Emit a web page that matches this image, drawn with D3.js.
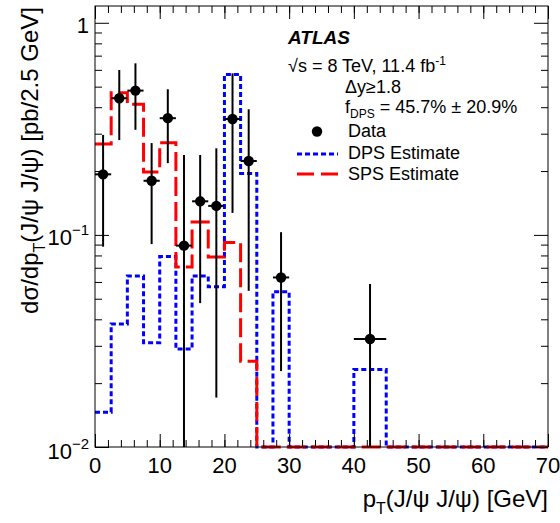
<!DOCTYPE html>
<html>
<head>
<meta charset="utf-8">
<script src="https://cdn.jsdelivr.net/npm/d3@7"></script>
<style>
  body { margin: 0; background: #fff; }
  svg { font-family: "Liberation Sans", Arial, Helvetica, sans-serif; }
</style>
</head>
<body>
<svg width="560" height="523"></svg>
<script>
// bin edges in GeV (2.5 GeV bins)
const binEdges = d3.range(0, 70.01, 2.5);
// DPS / SPS estimates per bin (0 = empty)
const dpsValues = [0.0146, 0.038, 0.064, 0.031, 0.079, 0.029, 0.064, 0.057, 0.57, 0.195,
  0, 0.054, 0, 0, 0, 0, 0.0232, 0.0232, 0, 0, 0, 0, 0, 0, 0, 0, 0, 0];
const spsValues = [0.268, 0.468, 0.413, 0.198, 0.272, 0.0705, 0.115, 0.0786, 0.092, 0.0254,
  0, 0, 0, 0, 0, 0, 0, 0, 0, 0, 0, 0, 0, 0, 0, 0, 0, 0];
// data points
const dataX = [1.25, 3.75, 6.25, 8.75, 11.25, 13.75, 16.25, 18.75, 21.25, 23.75, 28.75, 42.5];
const dataXErr = [1.25, 1.25, 1.25, 1.25, 1.25, 1.25, 1.25, 1.25, 1.25, 1.25, 1.25, 2.5];
const dataY = [0.193, 0.441, 0.479, 0.180, 0.355, 0.089, 0.144, 0.137, 0.352, 0.223, 0.063, 0.0323];
const dataYHi = [0.296, 0.599, 0.644, 0.271, 0.486, 0.238, 0.238, 0.256, 0.578, 0.391, 0.103, 0.0587];
const dataYLo = [0.088, 0.280, 0.313, 0.0905, 0.218, 0, 0.0477, 0.0171, 0.127, 0.0545, 0.0228, 0];
// ticks
const xMajor = [0, 10, 20, 30, 40, 50, 60, 70];
const xMinor = d3.range(0, 70.01, 2);
const yMajor = [0.01, 0.1, 1];
const yMinor = [2, 3, 4, 5, 6, 7, 8, 9].flatMap(m => [m * 0.01, m * 0.1]);
const yLabels = [['10', '\u22122'], ['10', '\u22121'], ['1', '']];

const svg = d3.select('svg');
const margin = { top: 6, right: 12, bottom: 76, left: 95 };
const W = 560 - margin.left - margin.right;
const H = 523 - margin.top - margin.bottom;
const yMin = 0.01;

const x = d3.scaleLinear().domain([0, 70]).range([margin.left, margin.left + W]);
const y = d3.scaleLog().domain([yMin, 1.2]).range([margin.top + H, margin.top]);
const yc = v => y(Math.max(v, yMin));

svg.append('clipPath').attr('id', 'clip')
  .append('rect')
  .attr('x', margin.left).attr('y', margin.top)
  .attr('width', W).attr('height', H + 2);

// histograms
function stepPoints(values) {
  const pts = [];
  values.forEach((v, i) => {
    pts.push([binEdges[i], v]);
    pts.push([binEdges[i + 1], v]);
  });
  return pts;
}
const hline = d3.line().x(d => x(d[0])).y(d => yc(d[1]));

const plot = svg.append('g').attr('clip-path', 'url(#clip)');
plot.append('path')
  .attr('d', hline(stepPoints(dpsValues)))
  .attr('fill', 'none').attr('stroke', '#0000ff')
  .attr('stroke-width', 3).attr('stroke-dasharray', '5,3');
plot.append('path')
  .attr('d', hline(stepPoints(spsValues)))
  .attr('fill', 'none').attr('stroke', '#ff0000')
  .attr('stroke-width', 3).attr('stroke-dasharray', '19,6');

// data points with error bars
const pts = dataX.map((d, i) => ({ x: d, ex: dataXErr[i], y: dataY[i], hi: dataYHi[i], lo: dataYLo[i] }));
const dg = plot.append('g');
dg.selectAll('.ey').data(pts).enter().append('line')
  .attr('x1', d => x(d.x)).attr('x2', d => x(d.x))
  .attr('y1', d => yc(d.lo)).attr('y2', d => yc(d.hi))
  .attr('stroke', '#000').attr('stroke-width', 2);
dg.selectAll('.ex').data(pts).enter().append('line')
  .attr('x1', d => x(d.x - d.ex)).attr('x2', d => x(d.x + d.ex))
  .attr('y1', d => y(d.y)).attr('y2', d => y(d.y))
  .attr('stroke', '#000').attr('stroke-width', 2);
dg.selectAll('circle').data(pts).enter().append('circle')
  .attr('cx', d => x(d.x)).attr('cy', d => y(d.y)).attr('r', 5.2)
  .attr('fill', '#000');

// frame and inward ticks
function styleAxis(g) {
  g.select('.domain').remove();
  g.selectAll('.tick line').attr('stroke', '#000').attr('stroke-width', 1);
  g.selectAll('.tick text').remove();
}
const bottom = margin.top + H, right = margin.left + W;
svg.append('g').attr('transform', `translate(0,${bottom})`)
  .call(d3.axisBottom(x).tickValues(xMinor).tickSize(-7)).call(styleAxis);
svg.append('g').attr('transform', `translate(0,${bottom})`)
  .call(d3.axisBottom(x).tickValues(xMajor).tickSize(-13)).call(styleAxis);
svg.append('g').attr('transform', `translate(0,${margin.top})`)
  .call(d3.axisTop(x).tickValues(xMinor).tickSize(-7)).call(styleAxis);
svg.append('g').attr('transform', `translate(0,${margin.top})`)
  .call(d3.axisTop(x).tickValues(xMajor).tickSize(-13)).call(styleAxis);
svg.append('g').attr('transform', `translate(${margin.left},0)`)
  .call(d3.axisLeft(y).tickValues(yMinor).tickSize(-7)).call(styleAxis);
svg.append('g').attr('transform', `translate(${margin.left},0)`)
  .call(d3.axisLeft(y).tickValues(yMajor).tickSize(-14)).call(styleAxis);
svg.append('g').attr('transform', `translate(${right},0)`)
  .call(d3.axisRight(y).tickValues(yMinor).tickSize(-7)).call(styleAxis);
svg.append('g').attr('transform', `translate(${right},0)`)
  .call(d3.axisRight(y).tickValues(yMajor).tickSize(-14)).call(styleAxis);
svg.append('rect')
  .attr('x', margin.left).attr('y', margin.top)
  .attr('width', W).attr('height', H)
  .attr('fill', 'none').attr('stroke', '#000').attr('stroke-width', 1);

// tick labels
svg.selectAll('.xl').data(xMajor).enter().append('text')
  .attr('x', d => x(d)).attr('y', bottom + 26)
  .attr('text-anchor', 'middle').attr('font-size', 22)
  .text(d => d);
yMajor.forEach((v, i) => {
  const t = svg.append('text')
    .attr('x', margin.left - 6).attr('y', y(v) + (i === 0 ? 12 : 10))
    .attr('text-anchor', 'end').attr('font-size', 22);
  t.append('tspan').text(yLabels[i][0]);
  if (yLabels[i][1]) {
    t.append('tspan').attr('dy', -10).attr('font-size', 15).text(yLabels[i][1]);
  }
});

// axis titles
const xt = svg.append('text')
  .attr('x', right).attr('y', 507)
  .attr('text-anchor', 'end').attr('font-size', 24);
xt.append('tspan').text('p');
xt.append('tspan').attr('dy', 7).attr('font-size', 16).text('T');
xt.append('tspan').attr('dy', -7).text('(J/\u03c8 J/\u03c8) [GeV]');

const yt = svg.append('text')
  .attr('transform', `translate(38,${margin.top + 1}) rotate(-90)`)
  .attr('text-anchor', 'end').attr('font-size', 24);
yt.append('tspan').text('d\u03c3/dp');
yt.append('tspan').attr('dy', 7).attr('font-size', 16).text('T');
yt.append('tspan').attr('dy', -7).text('(J/\u03c8 J/\u03c8) [pb/2.5 GeV]');

// labels and legend
svg.append('text').attr('x', 288).attr('y', 44)
  .attr('font-size', 19).attr('font-weight', 'bold').attr('font-style', 'italic')
  .text('ATLAS');
const en = svg.append('text').attr('x', 288).attr('y', 72).attr('font-size', 18);
en.append('tspan').text('\u221as = 8 TeV, 11.4 fb');
en.append('tspan').attr('dy', -7).attr('font-size', 12).text('-1');
svg.append('text').attr('x', 345).attr('y', 93).attr('font-size', 18).text('\u0394y\u22651.8');
const fd = svg.append('text').attr('x', 345).attr('y', 113).attr('font-size', 18);
fd.append('tspan').text('f');
fd.append('tspan').attr('dy', 5).attr('font-size', 12).text('DPS');
fd.append('tspan').attr('dy', -5).text(' = 45.7% \u00b1 20.9%');

svg.append('circle').attr('cx', 317).attr('cy', 131.5).attr('r', 5.2).attr('fill', '#000');
svg.append('text').attr('x', 348).attr('y', 137).attr('font-size', 18).text('Data');
svg.append('line').attr('x1', 297).attr('x2', 338).attr('y1', 154).attr('y2', 154)
  .attr('stroke', '#0000ff').attr('stroke-width', 3).attr('stroke-dasharray', '5,3');
svg.append('text').attr('x', 348).attr('y', 159).attr('font-size', 18).text('DPS Estimate');
svg.append('line').attr('x1', 297).attr('x2', 338).attr('y1', 174).attr('y2', 174)
  .attr('stroke', '#ff0000').attr('stroke-width', 3).attr('stroke-dasharray', '17,7');
svg.append('text').attr('x', 348).attr('y', 180).attr('font-size', 18).text('SPS Estimate');
</script>
</body>
</html>
